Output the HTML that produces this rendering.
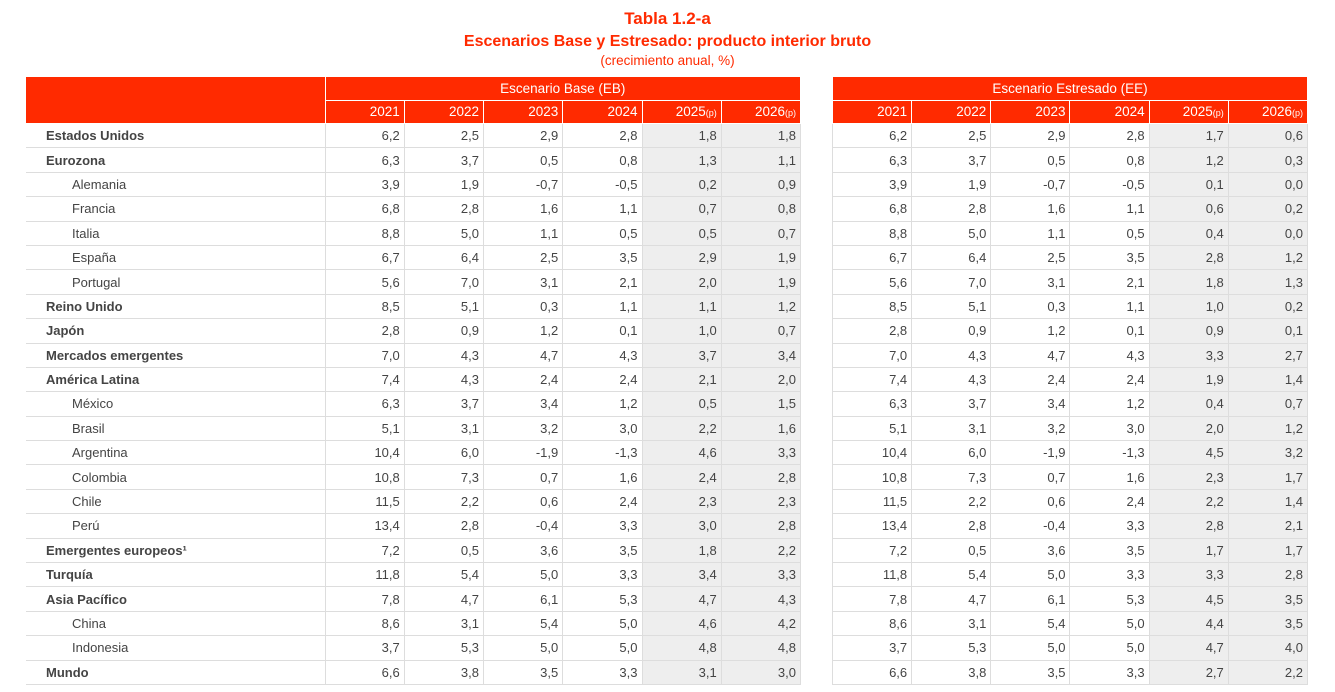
<!DOCTYPE html>
<html><head><meta charset="utf-8"><style>
body{margin:0;width:1335px;height:692px;background:#fff;font-family:"Liberation Sans",sans-serif;color:#444;position:relative;overflow:hidden}
.t{position:absolute;left:0;width:1335px;text-align:center;color:#ff2a00}
table{position:absolute;top:76px;border-collapse:collapse;table-layout:fixed;font-size:13px}
td{height:24.4px;padding:0 4px;border:1px solid #ddd;text-align:right;white-space:nowrap;box-sizing:border-box}
tr.h td{background:#ff2a00;color:#fff;border:1px solid #fff;height:23.5px;font-size:13.5px}
tr.h td.c{text-align:center}
td.l{text-align:left;padding-left:20px;border-left:none}
td.b{font-weight:bold}
td.i{padding-left:46px}
td.g{background:#eee}
small{font-size:9px}
#L{left:26px;width:775px}
#R{left:832px;width:476px}
</style></head><body>
<div class="t" style="top:9px;font-size:17px;font-weight:bold">Tabla 1.2-a</div>
<div class="t" style="top:33px;font-size:16px;font-weight:bold">Escenarios Base y Estresado: producto interior bruto</div>
<div class="t" style="top:53px;font-size:13.5px">(crecimiento anual, %)</div>
<table id="L">
<colgroup><col style="width:299px"><col><col><col><col><col><col></colgroup>
<tr class="h"><td style="border-top:none;border-left:none;border-bottom:none"></td><td class="c" colspan="6">Escenario Base (EB)</td></tr>
<tr class="h"><td style="border-top:none;border-left:none"></td><td>2021</td><td>2022</td><td>2023</td><td>2024</td><td>2025<small>(p)</small></td><td>2026<small>(p)</small></td></tr>
<tr><td class="l b">Estados Unidos</td><td>6,2</td><td>2,5</td><td>2,9</td><td>2,8</td><td class="g">1,8</td><td class="g">1,8</td></tr>
<tr><td class="l b">Eurozona</td><td>6,3</td><td>3,7</td><td>0,5</td><td>0,8</td><td class="g">1,3</td><td class="g">1,1</td></tr>
<tr><td class="l i">Alemania</td><td>3,9</td><td>1,9</td><td>-0,7</td><td>-0,5</td><td class="g">0,2</td><td class="g">0,9</td></tr>
<tr><td class="l i">Francia</td><td>6,8</td><td>2,8</td><td>1,6</td><td>1,1</td><td class="g">0,7</td><td class="g">0,8</td></tr>
<tr><td class="l i">Italia</td><td>8,8</td><td>5,0</td><td>1,1</td><td>0,5</td><td class="g">0,5</td><td class="g">0,7</td></tr>
<tr><td class="l i">España</td><td>6,7</td><td>6,4</td><td>2,5</td><td>3,5</td><td class="g">2,9</td><td class="g">1,9</td></tr>
<tr><td class="l i">Portugal</td><td>5,6</td><td>7,0</td><td>3,1</td><td>2,1</td><td class="g">2,0</td><td class="g">1,9</td></tr>
<tr><td class="l b">Reino Unido</td><td>8,5</td><td>5,1</td><td>0,3</td><td>1,1</td><td class="g">1,1</td><td class="g">1,2</td></tr>
<tr><td class="l b">Japón</td><td>2,8</td><td>0,9</td><td>1,2</td><td>0,1</td><td class="g">1,0</td><td class="g">0,7</td></tr>
<tr><td class="l b">Mercados emergentes</td><td>7,0</td><td>4,3</td><td>4,7</td><td>4,3</td><td class="g">3,7</td><td class="g">3,4</td></tr>
<tr><td class="l b">América Latina</td><td>7,4</td><td>4,3</td><td>2,4</td><td>2,4</td><td class="g">2,1</td><td class="g">2,0</td></tr>
<tr><td class="l i">México</td><td>6,3</td><td>3,7</td><td>3,4</td><td>1,2</td><td class="g">0,5</td><td class="g">1,5</td></tr>
<tr><td class="l i">Brasil</td><td>5,1</td><td>3,1</td><td>3,2</td><td>3,0</td><td class="g">2,2</td><td class="g">1,6</td></tr>
<tr><td class="l i">Argentina</td><td>10,4</td><td>6,0</td><td>-1,9</td><td>-1,3</td><td class="g">4,6</td><td class="g">3,3</td></tr>
<tr><td class="l i">Colombia</td><td>10,8</td><td>7,3</td><td>0,7</td><td>1,6</td><td class="g">2,4</td><td class="g">2,8</td></tr>
<tr><td class="l i">Chile</td><td>11,5</td><td>2,2</td><td>0,6</td><td>2,4</td><td class="g">2,3</td><td class="g">2,3</td></tr>
<tr><td class="l i">Perú</td><td>13,4</td><td>2,8</td><td>-0,4</td><td>3,3</td><td class="g">3,0</td><td class="g">2,8</td></tr>
<tr><td class="l b">Emergentes europeos¹</td><td>7,2</td><td>0,5</td><td>3,6</td><td>3,5</td><td class="g">1,8</td><td class="g">2,2</td></tr>
<tr><td class="l b">Turquía</td><td>11,8</td><td>5,4</td><td>5,0</td><td>3,3</td><td class="g">3,4</td><td class="g">3,3</td></tr>
<tr><td class="l b">Asia Pacífico</td><td>7,8</td><td>4,7</td><td>6,1</td><td>5,3</td><td class="g">4,7</td><td class="g">4,3</td></tr>
<tr><td class="l i">China</td><td>8,6</td><td>3,1</td><td>5,4</td><td>5,0</td><td class="g">4,6</td><td class="g">4,2</td></tr>
<tr><td class="l i">Indonesia</td><td>3,7</td><td>5,3</td><td>5,0</td><td>5,0</td><td class="g">4,8</td><td class="g">4,8</td></tr>
<tr><td class="l b">Mundo</td><td>6,6</td><td>3,8</td><td>3,5</td><td>3,3</td><td class="g">3,1</td><td class="g">3,0</td></tr>
</table>
<table id="R">
<tr class="h"><td class="c" colspan="6">Escenario Estresado (EE)</td></tr>
<tr class="h"><td>2021</td><td>2022</td><td>2023</td><td>2024</td><td>2025<small>(p)</small></td><td>2026<small>(p)</small></td></tr>
<tr><td>6,2</td><td>2,5</td><td>2,9</td><td>2,8</td><td class="g">1,7</td><td class="g">0,6</td></tr>
<tr><td>6,3</td><td>3,7</td><td>0,5</td><td>0,8</td><td class="g">1,2</td><td class="g">0,3</td></tr>
<tr><td>3,9</td><td>1,9</td><td>-0,7</td><td>-0,5</td><td class="g">0,1</td><td class="g">0,0</td></tr>
<tr><td>6,8</td><td>2,8</td><td>1,6</td><td>1,1</td><td class="g">0,6</td><td class="g">0,2</td></tr>
<tr><td>8,8</td><td>5,0</td><td>1,1</td><td>0,5</td><td class="g">0,4</td><td class="g">0,0</td></tr>
<tr><td>6,7</td><td>6,4</td><td>2,5</td><td>3,5</td><td class="g">2,8</td><td class="g">1,2</td></tr>
<tr><td>5,6</td><td>7,0</td><td>3,1</td><td>2,1</td><td class="g">1,8</td><td class="g">1,3</td></tr>
<tr><td>8,5</td><td>5,1</td><td>0,3</td><td>1,1</td><td class="g">1,0</td><td class="g">0,2</td></tr>
<tr><td>2,8</td><td>0,9</td><td>1,2</td><td>0,1</td><td class="g">0,9</td><td class="g">0,1</td></tr>
<tr><td>7,0</td><td>4,3</td><td>4,7</td><td>4,3</td><td class="g">3,3</td><td class="g">2,7</td></tr>
<tr><td>7,4</td><td>4,3</td><td>2,4</td><td>2,4</td><td class="g">1,9</td><td class="g">1,4</td></tr>
<tr><td>6,3</td><td>3,7</td><td>3,4</td><td>1,2</td><td class="g">0,4</td><td class="g">0,7</td></tr>
<tr><td>5,1</td><td>3,1</td><td>3,2</td><td>3,0</td><td class="g">2,0</td><td class="g">1,2</td></tr>
<tr><td>10,4</td><td>6,0</td><td>-1,9</td><td>-1,3</td><td class="g">4,5</td><td class="g">3,2</td></tr>
<tr><td>10,8</td><td>7,3</td><td>0,7</td><td>1,6</td><td class="g">2,3</td><td class="g">1,7</td></tr>
<tr><td>11,5</td><td>2,2</td><td>0,6</td><td>2,4</td><td class="g">2,2</td><td class="g">1,4</td></tr>
<tr><td>13,4</td><td>2,8</td><td>-0,4</td><td>3,3</td><td class="g">2,8</td><td class="g">2,1</td></tr>
<tr><td>7,2</td><td>0,5</td><td>3,6</td><td>3,5</td><td class="g">1,7</td><td class="g">1,7</td></tr>
<tr><td>11,8</td><td>5,4</td><td>5,0</td><td>3,3</td><td class="g">3,3</td><td class="g">2,8</td></tr>
<tr><td>7,8</td><td>4,7</td><td>6,1</td><td>5,3</td><td class="g">4,5</td><td class="g">3,5</td></tr>
<tr><td>8,6</td><td>3,1</td><td>5,4</td><td>5,0</td><td class="g">4,4</td><td class="g">3,5</td></tr>
<tr><td>3,7</td><td>5,3</td><td>5,0</td><td>5,0</td><td class="g">4,7</td><td class="g">4,0</td></tr>
<tr><td>6,6</td><td>3,8</td><td>3,5</td><td>3,3</td><td class="g">2,7</td><td class="g">2,2</td></tr>
</table>
</body></html>
